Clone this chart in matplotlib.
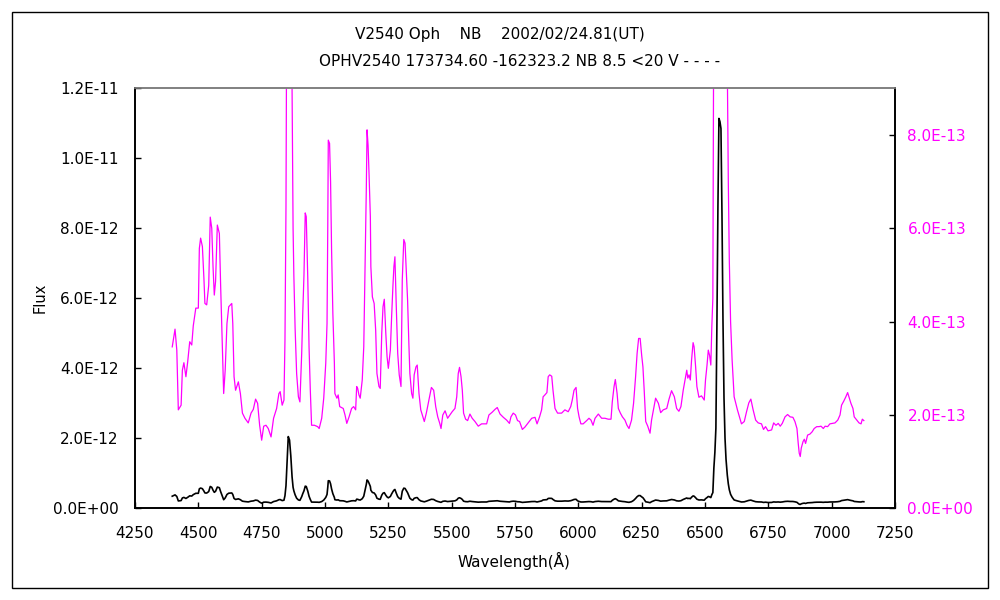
import numpy as np
import matplotlib
matplotlib.use("Agg")
import matplotlib.pyplot as plt
from matplotlib.ticker import FuncFormatter
from matplotlib.patches import Rectangle

plt.rcParams['font.family'] = ['DejaVu Sans', 'Noto Sans CJK JP']

TITLE1 = "V2540 Oph    NB    2002/02/24.81(UT)"
TITLE2 = "OPHV2540 173734.60 -162323.2 NB 8.5 <20 V - - - -"
XLABEL = "Wavelength(Å)"
YLABEL = "Flux"

wavelength = [
    4397, 4408, 4415, 4421, 4432, 4437, 4443, 4451, 4458, 4466, 4474, 4480, 4490, 4500,
    4504, 4509, 4516, 4522, 4526, 4533, 4541, 4547, 4553, 4558, 4563, 4568, 4575, 4583,
    4588, 4595, 4600, 4606, 4613, 4620, 4632, 4636, 4641, 4647, 4658, 4666, 4674, 4684,
    4697, 4708, 4717, 4726, 4734, 4742, 4750, 4758, 4767, 4776, 4787, 4797, 4809, 4818,
    4823, 4831, 4838, 4842, 4846, 4851, 4855, 4860, 4865, 4870, 4874, 4877, 4882, 4888,
    4895, 4901, 4908, 4912, 4917, 4922, 4926, 4932, 4937, 4942, 4947, 4958, 4971, 4977,
    4987, 4995, 5003, 5008, 5011, 5013, 5018, 5022, 5026, 5031, 5037, 5039, 5047, 5052,
    5058, 5072, 5079, 5086, 5095, 5105, 5113, 5121, 5125, 5129, 5134, 5139, 5147, 5153,
    5158, 5163, 5166, 5170, 5174, 5179, 5181, 5187, 5194, 5200, 5205, 5213, 5218, 5224,
    5229, 5234, 5240, 5245, 5250, 5258, 5263, 5268, 5272, 5276, 5281, 5287, 5293, 5300,
    5305, 5311, 5316, 5326, 5331, 5335, 5342, 5347, 5352, 5359, 5364, 5371, 5378, 5388,
    5392, 5400, 5410, 5420, 5429, 5437, 5445, 5453, 5458, 5465, 5474, 5484, 5493, 5502,
    5513, 5520, 5526, 5531, 5537, 5542, 5547, 5555, 5563, 5572, 5581, 5592, 5605, 5618,
    5638, 5647, 5660, 5671, 5680, 5691, 5704, 5717, 5728, 5734, 5743, 5752, 5760, 5768,
    5779, 5789, 5802, 5816, 5829, 5837, 5847, 5855, 5861, 5868, 5876, 5881, 5887, 5895,
    5900, 5908, 5918, 5934, 5947, 5960, 5970, 5976, 5983, 5991, 5997, 6003, 6010, 6019,
    6033, 6042, 6050, 6058, 6066, 6079, 6092, 6105, 6118, 6129, 6134, 6141, 6146, 6153,
    6158, 6166, 6174, 6184, 6192, 6200, 6210, 6218, 6226, 6232, 6238, 6244, 6250, 6255,
    6260, 6266, 6274, 6283, 6289, 6305, 6316, 6325, 6335, 6349, 6358, 6368, 6379, 6388,
    6397, 6405, 6414, 6421, 6428, 6432, 6437, 6442, 6447, 6453, 6457, 6463, 6468, 6476,
    6486, 6497, 6502, 6508, 6513, 6518, 6523, 6527, 6531, 6535, 6539, 6543, 6547, 6551,
    6555, 6559, 6563, 6567, 6571, 6575, 6579, 6583, 6588, 6592, 6596, 6601, 6607, 6615,
    6628, 6644, 6655, 6664, 6673, 6681, 6690, 6700, 6710, 6723, 6731, 6739, 6749, 6763,
    6771, 6780, 6789, 6797, 6805, 6816, 6826, 6836, 6847, 6855, 6863, 6868, 6872, 6876,
    6880, 6887, 6892, 6897, 6905, 6914, 6923, 6931, 6941, 6950, 6958, 6967, 6974, 6984,
    6993, 7002, 7013, 7024, 7033, 7039, 7048, 7056, 7063, 7068, 7076, 7084, 7089, 7099,
    7108, 7116, 7121, 7127,
]

# flux in units of 1e-13
flux_e13 = [
    3.46, 3.84, 3.39, 2.11, 2.21, 2.96, 3.12, 2.82, 3.14, 3.57, 3.50, 3.91, 4.29, 4.29,
    5.57, 5.79, 5.61, 4.93, 4.39, 4.36, 4.78, 6.24, 6.00, 5.18, 4.57, 4.86, 6.07, 5.89,
    4.78, 3.46, 2.46, 2.96, 3.96, 4.32, 4.39, 3.96, 2.82, 2.53, 2.71, 2.46, 2.04, 1.93,
    1.83, 2.04, 2.12, 2.34, 2.25, 1.78, 1.46, 1.76, 1.78, 1.71, 1.53, 1.93, 2.14, 2.46,
    2.50, 2.21, 2.32, 3.61, 6.46, 14.0, 20.5, 19.5, 15.0, 9.0, 6.0, 5.0, 3.86, 2.89,
    2.39, 2.28, 3.32, 4.14, 5.00, 6.33, 6.25, 4.93, 3.46, 2.53, 1.78, 1.78, 1.75, 1.71,
    1.93, 2.36, 3.11, 3.96, 6.07, 7.89, 7.82, 7.00, 5.53, 4.18, 3.11, 2.46, 2.36, 2.43,
    2.18, 2.14, 2.00, 1.82, 1.96, 2.14, 2.18, 2.11, 2.61, 2.57, 2.43, 2.36, 2.75, 3.46,
    5.18, 6.82, 8.11, 7.78, 7.14, 6.25, 5.18, 4.53, 4.39, 3.82, 2.89, 2.61, 2.57, 3.75,
    4.32, 4.48, 3.75, 3.25, 3.00, 3.39, 4.11, 4.75, 5.18, 5.39, 4.39, 3.32, 2.86, 2.61,
    4.89, 5.76, 5.68, 4.46, 3.54, 2.89, 2.46, 2.36, 2.86, 3.03, 3.07, 2.46, 2.11, 1.93,
    1.86, 2.04, 2.32, 2.59, 2.53, 2.18, 1.96, 1.82, 1.71, 2.00, 2.09, 1.93, 2.00, 2.07,
    2.14, 2.39, 2.89, 3.02, 2.82, 2.53, 2.04, 1.91, 1.88, 2.02, 1.93, 1.86, 1.76, 1.81,
    1.81, 2.00, 2.06, 2.12, 2.16, 2.02, 1.95, 1.89, 1.82, 1.96, 2.04, 2.00, 1.88, 1.86,
    1.69, 1.74, 1.83, 1.93, 1.95, 1.81, 1.96, 2.11, 2.39, 2.43, 2.48, 2.82, 2.86, 2.83,
    2.53, 2.14, 2.04, 2.04, 2.11, 2.07, 2.18, 2.32, 2.53, 2.59, 2.14, 1.96, 1.81, 1.81,
    1.88, 1.93, 1.89, 1.78, 1.93, 2.02, 1.93, 1.93, 1.91, 1.91, 2.28, 2.61, 2.76, 2.46,
    2.14, 2.04, 1.96, 1.89, 1.78, 1.71, 1.89, 2.25, 2.82, 3.32, 3.64, 3.64, 3.28, 3.03,
    2.53, 1.86, 1.76, 1.61, 1.89, 2.36, 2.25, 2.05, 2.11, 2.14, 2.34, 2.52, 2.39, 2.14,
    2.08, 2.18, 2.53, 2.75, 2.96, 2.79, 2.86, 2.75, 3.18, 3.55, 3.46, 3.03, 2.61, 2.38,
    2.41, 2.32, 2.75, 3.07, 3.39, 3.28, 3.07, 3.90, 4.50, 11.5, 16.0, 22.9, 52.5, 86.0,
    111.4, 110.5, 108.5, 84.0, 53.5, 31.5, 20.0, 14.0, 9.5, 7.0, 5.3, 4.0, 3.18, 2.39,
    2.11, 1.81, 1.86, 2.07, 2.26, 2.34, 2.11, 1.89, 1.83, 1.81, 1.69, 1.75, 1.66, 1.68,
    1.83, 1.78, 1.82, 1.76, 1.82, 1.96, 2.01, 1.96, 1.95, 1.86, 1.71, 1.39, 1.18, 1.11,
    1.29, 1.43, 1.48, 1.39, 1.57, 1.59, 1.64, 1.71, 1.75, 1.75, 1.76, 1.71, 1.76, 1.75,
    1.81, 1.82, 1.83, 1.89, 2.00, 2.21, 2.30, 2.39, 2.48, 2.39, 2.25, 2.14, 1.96, 1.89,
    1.83, 1.81, 1.91, 1.88,
]

x_ticks = [4250, 4500, 4750, 5000, 5250, 5500, 5750, 6000, 6250, 6500, 6750, 7000, 7250]
left_ticks = [0, 2e-12, 4e-12, 6e-12, 8e-12, 1e-11, 1.2e-11]
right_ticks = [0, 2e-13, 4e-13, 6e-13, 8e-13]

wl = np.array(wavelength, dtype=float)
flux = np.array(flux_e13) * 1e-13

MAG = '#FF00FF'

fig = plt.figure(figsize=(10, 6), dpi=100)
fig.patch.set_facecolor('white')
fig.add_artist(Rectangle((0.012, 0.02), 0.976, 0.96, transform=fig.transFigure,
                         fill=False, edgecolor='black', linewidth=1.0))

ax = fig.add_axes([0.135, 0.1528, 0.76, 0.70])
ax2 = ax.twinx()
ax.set_zorder(ax2.get_zorder() + 1)
ax.patch.set_visible(False)

ax2.plot(wl, flux, color=MAG, lw=0.9)
ax.plot(wl, flux, color='black', lw=1.2)

ax.set_xlim(4250, 7250)
ax.set_ylim(0, 1.2e-11)
ax2.set_ylim(0, 9e-13)
ax.set_xticks(x_ticks)
ax.set_yticks(left_ticks)
ax2.set_yticks(right_ticks)

fmt = FuncFormatter(lambda v, p: "%.1E" % v)
ax.yaxis.set_major_formatter(fmt)
ax2.yaxis.set_major_formatter(fmt)

for a in (ax, ax2):
    a.tick_params(direction='in', length=4, width=1, labelsize=11)
    for s in a.spines.values():
        s.set_linewidth(1.2)
    a.spines['top'].set_color('#808080')
ax.tick_params(axis='x', pad=13)
ax.tick_params(axis='y', pad=12, labelcolor='black')
ax2.tick_params(axis='y', pad=9, labelcolor=MAG)

fig.text(0.040, (600 - 298) / 600, YLABEL, rotation=90, ha='center', va='center', fontsize=10.5)
fig.text(0.514, (600 - 561) / 600, XLABEL, ha='center', va='center', fontsize=11)
fig.text(0.500, (600 - 35) / 600, TITLE1, ha='center', va='center', fontsize=11)
fig.text(0.520, (600 - 62) / 600, TITLE2, ha='center', va='center', fontsize=11)

fig.savefig('out.png', dpi=100, facecolor='white')
